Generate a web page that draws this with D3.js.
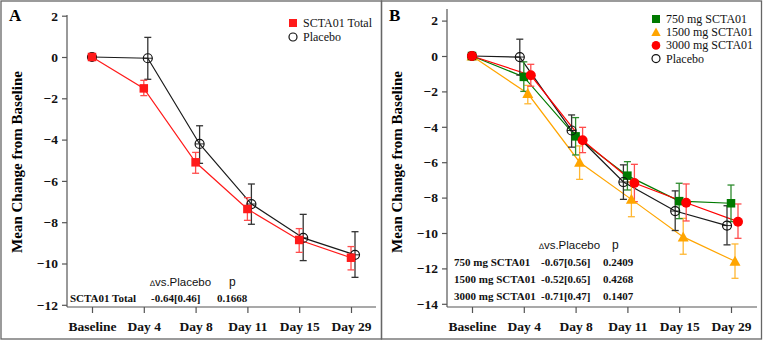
<!DOCTYPE html>
<html>
<head>
<meta charset="utf-8">
<script src="https://cdn.jsdelivr.net/npm/d3@7"></script>
<style>
  body { margin: 0; background: #fff; }
  svg { display: block; }
</style>
</head>
<body>
<div id="chart"></div>
<script>
// categories along the x axis
const visits = ["Baseline", "Day 4", "Day 8", "Day 11", "Day 15", "Day 29"];

// Panel A: pooled SCTA01 vs placebo (mean, upper, lower)
const totalMean  = [0, -1.52, -5.10, -7.36, -8.86, -9.72];
const totalHi    = [0, -1.13, -4.62, -6.81, -8.31, -9.18];
const totalLo    = [0, -1.87, -5.63, -7.91, -9.46, -10.31];
const placeboMean = [0, -0.06, -4.21, -7.12, -8.76, -9.58];
const placeboHi   = [0, 0.95, -3.33, -6.15, -7.62, -8.46];
const placeboLo   = [0, -1.08, -5.15, -8.10, -9.86, -10.67];

// Panel B: dose groups
const d750Mean  = [0, -1.18, -4.54, -6.76, -8.20, -8.32];
const d750Hi    = [0, -0.33, -3.48, -5.97, -7.19, -7.29];
const d750Lo    = [0, -2.00, -5.59, -7.57, -9.19, -9.36];
const d1500Mean = [0, -2.12, -6.00, -8.10, -10.22, -11.60];
const d1500Hi   = [0, -1.66, -5.08, -7.12, -9.17, -10.62];
const d1500Lo   = [0, -2.70, -6.97, -9.08, -11.20, -12.56];
const d3000Mean = [0, -1.09, -4.76, -7.18, -8.29, -9.36];
const d3000Hi   = [0, -0.47, -4.03, -6.12, -7.23, -8.36];
const d3000Lo   = [0, -1.71, -5.46, -8.23, -9.32, -10.30];

// y tick labels
const ticksA = [2, 0, -2, -4, -6, -8, -10, -12];
const ticksB = [2, 0, -2, -4, -6, -8, -10, -12, -14];

// stats tables
const tableHead = ["\u2206vs.Placebo", "p"];
const rowsA = [["SCTA01 Total", "-0.64[0.46]", "0.1668"]];
const rowsB = [
  ["750 mg SCTA01", "-0.67[0.56]", "0.2409"],
  ["1500 mg SCTA01", "-0.52[0.65]", "0.4268"],
  ["3000 mg SCTA01", "-0.71[0.47]", "0.1407"]
];

const W = 764, H = 342;
const serif = "'Liberation Serif', 'Times New Roman', serif";
const sans = "'Liberation Sans', Arial, sans-serif";

const svg = d3.select("#chart").append("svg")
  .attr("width", W).attr("height", H);

// panel frames
svg.append("rect").attr("x", 1).attr("y", 1).attr("width", 380.5).attr("height", 338)
  .attr("fill", "none").attr("stroke", "#666").attr("stroke-width", 1.3);
svg.append("rect").attr("x", 381.5).attr("y", 1).attr("width", 380).attr("height", 338)
  .attr("fill", "none").attr("stroke", "#666").attr("stroke-width", 1.3);

function series(name, mean, hi, lo, color, barColor, shape, dx) {
  return {name, mean, hi, lo, color, barColor, shape, dx};
}

function drawPanel(cfg) {
  const g = svg.append("g");
  const x = d3.scalePoint().domain(visits).range(cfg.xRange);
  const y = d3.scaleLinear().domain(cfg.yDomain).range(cfg.yRange);

  // panel letter
  g.append("text").attr("x", cfg.letterX).attr("y", 21)
    .attr("font-family", serif).attr("font-weight", "bold").attr("font-size", 17)
    .text(cfg.letter);

  // y axis
  const yAxis = g.append("g")
    .attr("transform", `translate(${cfg.axisX},0)`)
    .call(d3.axisLeft(y).tickValues(cfg.ticks).tickSize(5).tickSizeOuter(0).tickPadding(4));
  yAxis.select(".domain").remove();
  yAxis.append("line").attr("x1", 0).attr("x2", 0)
    .attr("y1", cfg.axisTop).attr("y2", cfg.axisY).attr("stroke", "#555").attr("stroke-width", 1.2);
  yAxis.selectAll(".tick line").attr("stroke", "#555").attr("stroke-width", 1.2);
  yAxis.selectAll("text").attr("font-family", serif).attr("font-weight", "bold")
    .attr("font-size", 13.5).attr("fill", "#111");

  // x axis
  const xAxis = g.append("g")
    .attr("transform", `translate(0,${cfg.axisY})`)
    .call(d3.axisBottom(x).tickSize(6).tickSizeOuter(0).tickPadding(8));
  xAxis.select(".domain").remove();
  xAxis.append("line").attr("x1", cfg.axisX).attr("x2", cfg.axisRight)
    .attr("y1", 0).attr("y2", 0).attr("stroke", "#555").attr("stroke-width", 1.2);
  xAxis.selectAll(".tick line").attr("stroke", "#555").attr("stroke-width", 1.2);
  xAxis.selectAll("text").attr("font-family", serif).attr("font-weight", "bold")
    .attr("font-size", 13.5).attr("fill", "#111");

  // y axis title
  g.append("text")
    .attr("transform", `translate(${cfg.titleX},${cfg.titleY}) rotate(-90)`)
    .attr("text-anchor", "middle")
    .attr("font-family", serif).attr("font-weight", "bold").attr("font-size", 15)
    .text("Mean Change from Baseline");

  const px = (s, i) => x(visits[i]) + (i === 0 ? 0 : s.dx);

  // lines, then error bars, then markers
  cfg.series.forEach(s => {
    const line = d3.line().x((d, i) => px(s, i)).y(d => y(d));
    g.append("path").datum(s.mean).attr("d", line)
      .attr("fill", "none").attr("stroke", s.color).attr("stroke-width", 1.2);
  });

  cfg.series.forEach(s => {
    const eb = g.append("g");
    s.mean.forEach((m, i) => {
      if (i === 0) return;
      const cx = px(s, i);
      eb.append("line").attr("x1", cx).attr("x2", cx)
        .attr("y1", y(s.hi[i])).attr("y2", y(s.lo[i]))
        .attr("stroke", s.barColor).attr("stroke-width", 1.3);
      [s.hi[i], s.lo[i]].forEach(v => {
        eb.append("line").attr("x1", cx - 3.5).attr("x2", cx + 3.5)
          .attr("y1", y(v)).attr("y2", y(v))
          .attr("stroke", s.barColor).attr("stroke-width", 1.3);
      });
    });
  });

  cfg.series.forEach(s => {
    s.mean.forEach((m, i) => drawMarker(g, s, px(s, i), y(m)));
  });

  // legend
  cfg.series.slice().sort((a, b) => a.legendOrder - b.legendOrder).forEach((s, k) => {
    const ly = cfg.legendY + k * cfg.legendStep;
    drawMarker(g, s, cfg.legendX, ly, true);
    g.append("text").attr("x", cfg.legendX + 10).attr("y", ly + 4)
      .attr("font-family", serif).attr("font-size", 12).attr("fill", "#111")
      .text(s.name);
  });

  // stats table
  g.append("text").attr("x", cfg.headX[0]).attr("y", cfg.headY)
    .attr("font-family", sans).attr("font-size", 11.5).attr("fill", "#111")
    .selectAll("tspan").data([tableHead[0].slice(0, 1), tableHead[0].slice(1)]).join("tspan")
    .attr("font-size", (d, i) => i === 0 ? 8 : 11.5)
    .text(d => d);
  g.append("text").attr("x", cfg.headX[1]).attr("y", cfg.headY)
    .attr("font-family", sans).attr("font-size", 12).attr("fill", "#111")
    .text(tableHead[1]);
  cfg.rows.forEach((r, k) => {
    r.forEach((t, j) => {
      g.append("text").attr("x", cfg.colX[j]).attr("y", cfg.rowY + k * cfg.rowStep)
        .attr("font-family", serif).attr("font-weight", "bold").attr("font-size", 11)
        .attr("fill", "#111").text(t);
    });
  });
}

function drawMarker(g, s, cx, cy, legend) {
  if (s.shape === "square") {
    const a = legend ? 8 : 8.5;
    g.append("rect").attr("x", cx - a / 2).attr("y", cy - a / 2)
      .attr("width", a).attr("height", a).attr("fill", s.color);
  } else if (s.shape === "triangle") {
    const k = legend ? 0.85 : 1;
    g.append("path").attr("transform", `translate(${cx},${cy}) scale(${k})`)
      .attr("d", "M0,-5.5L5.5,4.5L-5.5,4.5Z").attr("fill", s.color);
  } else if (s.shape === "dot") {
    g.append("circle").attr("cx", cx).attr("cy", cy).attr("r", legend ? 4.3 : 5).attr("fill", s.color);
  } else {
    g.append("circle").attr("cx", cx).attr("cy", cy).attr("r", legend ? 4 : 4.5)
      .attr("fill", "none").attr("stroke", "#111").attr("stroke-width", 1.2);
    if (!legend) {
      g.append("line").attr("x1", cx - 4.5).attr("x2", cx + 4.5)
        .attr("y1", cy).attr("y2", cy).attr("stroke", "#111").attr("stroke-width", 0.9);
    }
  }
}

const redA = series("SCTA01 Total", totalMean, totalHi, totalLo, "#ff1a1a", "#ff4d4d", "square", 0);
redA.legendOrder = 0;
const placA = series("Placebo", placeboMean, placeboHi, placeboLo, "#1a1a1a", "#333", "circle", 4);
placA.legendOrder = 1;

drawPanel({
  letter: "A", letterX: 9,
  xRange: [92, 351], axisX: 67, axisRight: 376, axisY: 307, axisTop: 15,
  yDomain: [-12, 2], yRange: [304.8, 15.7], ticks: ticksA,
  titleX: 22, titleY: 162,
  series: [placA, redA],
  legendX: 293, legendY: 23, legendStep: 14,
  headX: [150, 229], headY: 286,
  rows: rowsA, colX: [70, 151, 217], rowY: 302, rowStep: 17
});

const gB = series("750 mg SCTA01", d750Mean, d750Hi, d750Lo, "#007a00", "#2e8b2e", "square", 0);
gB.legendOrder = 0;
const oB = series("1500 mg SCTA01", d1500Mean, d1500Hi, d1500Lo, "#ffa500", "#ffb733", "triangle", 4);
oB.legendOrder = 1;
const rB = series("3000 mg SCTA01", d3000Mean, d3000Hi, d3000Lo, "#ff0000", "#ff4d4d", "dot", 7);
rB.legendOrder = 2;
const pB = series("Placebo", placeboMean, placeboHi, placeboLo, "#1a1a1a", "#333", "circle", -4);
pB.legendOrder = 3;

drawPanel({
  letter: "B", letterX: 389,
  xRange: [472, 731], axisX: 447, axisRight: 757, axisY: 307, axisTop: 9,
  yDomain: [-14, 2], yRange: [303.8, 20.6], ticks: ticksB,
  titleX: 402, titleY: 162,
  series: [oB, gB, pB, rB],
  legendX: 656, legendY: 19, legendStep: 13.2,
  headX: [539, 612], headY: 249,
  rows: rowsB, colX: [454, 541, 603], rowY: 265.5, rowStep: 17.4
});
</script>
</body>
</html>
